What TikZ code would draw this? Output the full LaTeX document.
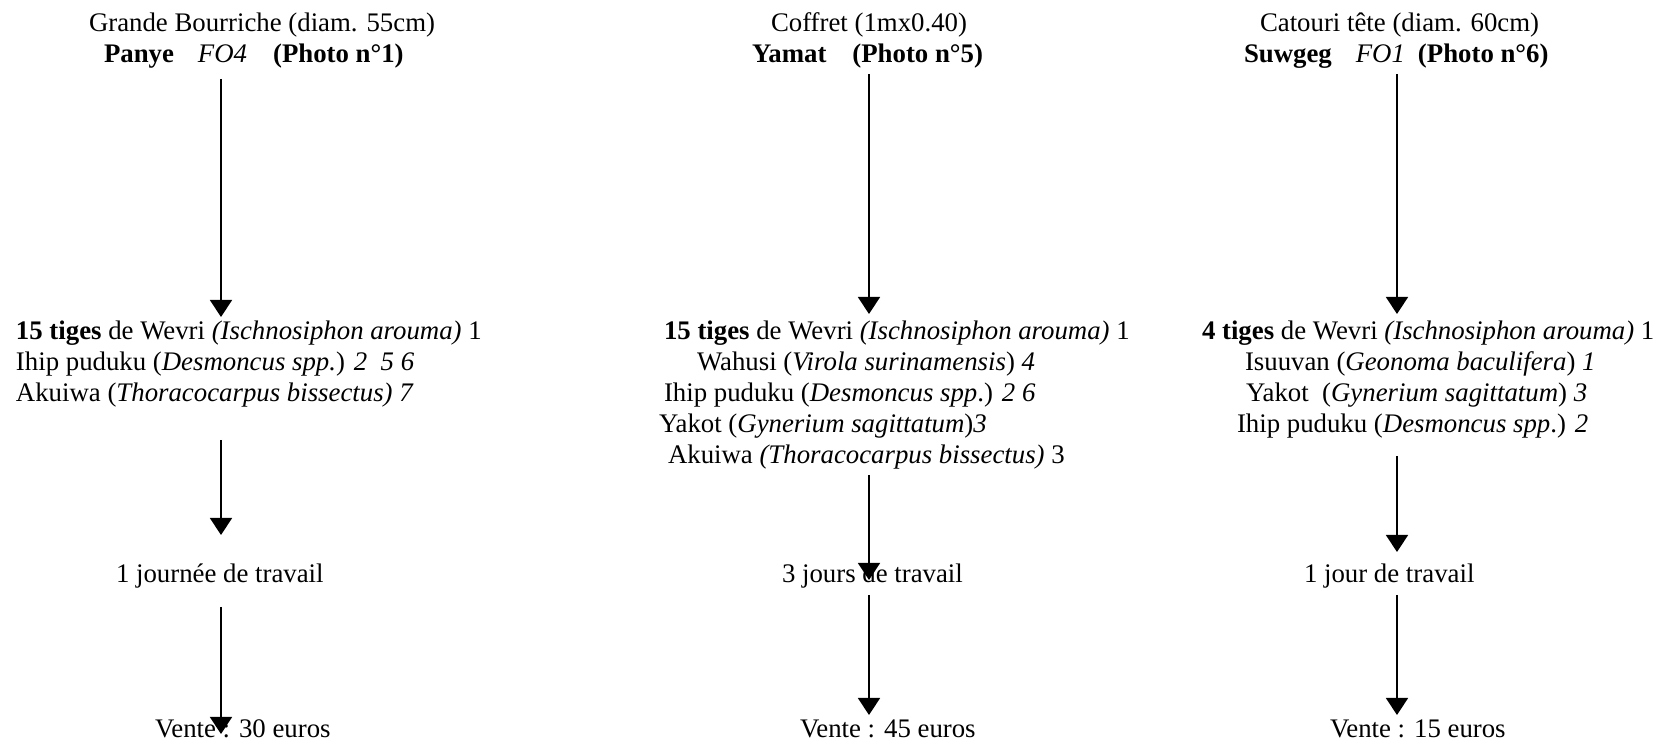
\documentclass[tikz,border=0pt]{standalone}
\usepackage{fontspec}
\setmainfont{Liberation Serif}
\usetikzlibrary{arrows.meta}
\begin{document}
\begin{tikzpicture}[x=0.5pt,y=-0.5pt,
  txt/.style={anchor=base west,inner sep=0pt,outer sep=0pt,font=\fontsize{13.4}{15.4}\selectfont},
  flow/.style={line width=0.8pt,-{Triangle[width=11pt,length=8.5pt]}}]
\useasboundingbox (0,0) rectangle (1656,742);

% ---------- Column 1 ----------
\node[txt] (h1a) at (89,32) {Grande Bourriche (diam. 55cm)};
\node[txt] (h1b) at (104,63) {\textbf{Panye}\hspace{12pt}\textit{FO4}\hspace{13pt}\textbf{(Photo n°1)}};
\node[txt] (m1a) at (16,340) {\textbf{15 tiges} de Wevri \textit{(Ischnosiphon arouma)} 1};
\node[txt] (m1b) at (16,371) {Ihip puduku (\textit{Desmoncus spp.}) \textit{2\ \ 5 6}};
\node[txt] (m1c) at (16,402) {Akuiwa (\textit{Thoracocarpus bissectus) 7}};
\node[txt] (w1) at (116,583) {1 journée de travail};
\node[txt] (v1) at (155,738) {Vente : 30 euros};
\coordinate (a1s) at (221,79);  \coordinate (a1e) at (221,317);
\coordinate (b1s) at (221,440); \coordinate (b1e) at (221,535);
\coordinate (c1s) at (221,607); \coordinate (c1e) at (221,734);
\draw[flow] (a1s) -- (a1e);
\draw[flow] (b1s) -- (b1e);
\draw[flow] (c1s) -- (c1e);

% ---------- Column 2 ----------
\node[txt] (h2a) at (771,32) {Coffret (1mx0.40)};
\node[txt] (h2b) at (752,63) {\textbf{Yamat}\hspace{13pt}\textbf{(Photo n°5)}};
\node[txt] (m2a) at (664,340) {\textbf{15 tiges} de Wevri \textit{(Ischnosiphon arouma)} 1};
\node[txt] (m2b) at (697,371) {Wahusi (\textit{Virola surinamensis}) \textit{4}};
\node[txt] (m2c) at (664,402) {Ihip puduku (\textit{Desmoncus spp}.) \textit{2 6}};
\node[txt] (m2d) at (659,433) {Yakot (\textit{Gynerium sagittatum})\textit{3}};
\node[txt] (m2e) at (668,464) {Akuiwa \textit{(Thoracocarpus bissectus)} 3};
\node[txt] (w2) at (782,583) {3 jours de travail};
\node[txt] (v2) at (800,738) {Vente : 45 euros};
\coordinate (a2s) at (869,74);  \coordinate (a2e) at (869,314);
\coordinate (b2s) at (869,475); \coordinate (b2e) at (869,580);
\coordinate (c2s) at (869,595); \coordinate (c2e) at (869,715);
\draw[flow] (a2s) -- (a2e);
\draw[flow] (b2s) -- (b2e);
\draw[flow] (c2s) -- (c2e);

% ---------- Column 3 ----------
\node[txt] (h3a) at (1260,32) {Catouri tête (diam. 60cm)};
\node[txt] (h3b) at (1244,63) {\textbf{Suwgeg}\hspace{12pt}\textit{FO1}\hspace{6.5pt}\textbf{(Photo n°6)}};
\node[txt] (m3a) at (1202,340) {\textbf{4 tiges} de Wevri \textit{(Ischnosiphon arouma)} 1};
\node[txt] (m3b) at (1245,371) {Isuuvan (\textit{Geonoma baculifera}) \textit{1}};
\node[txt] (m3c) at (1246,402) {Yakot\ \ (\textit{Gynerium sagittatum}) \textit{3}};
\node[txt] (m3d) at (1237,433) {Ihip puduku (\textit{Desmoncus spp}.) \textit{2}};
\node[txt] (w3) at (1304,583) {1 jour de travail};
\node[txt] (v3) at (1330,738) {Vente : 15 euros};
\coordinate (a3s) at (1397,74);  \coordinate (a3e) at (1397,314);
\coordinate (b3s) at (1397,456); \coordinate (b3e) at (1397,552);
\coordinate (c3s) at (1397,595); \coordinate (c3e) at (1397,715);
\draw[flow] (a3s) -- (a3e);
\draw[flow] (b3s) -- (b3e);
\draw[flow] (c3s) -- (c3e);
\end{tikzpicture}
\end{document}
